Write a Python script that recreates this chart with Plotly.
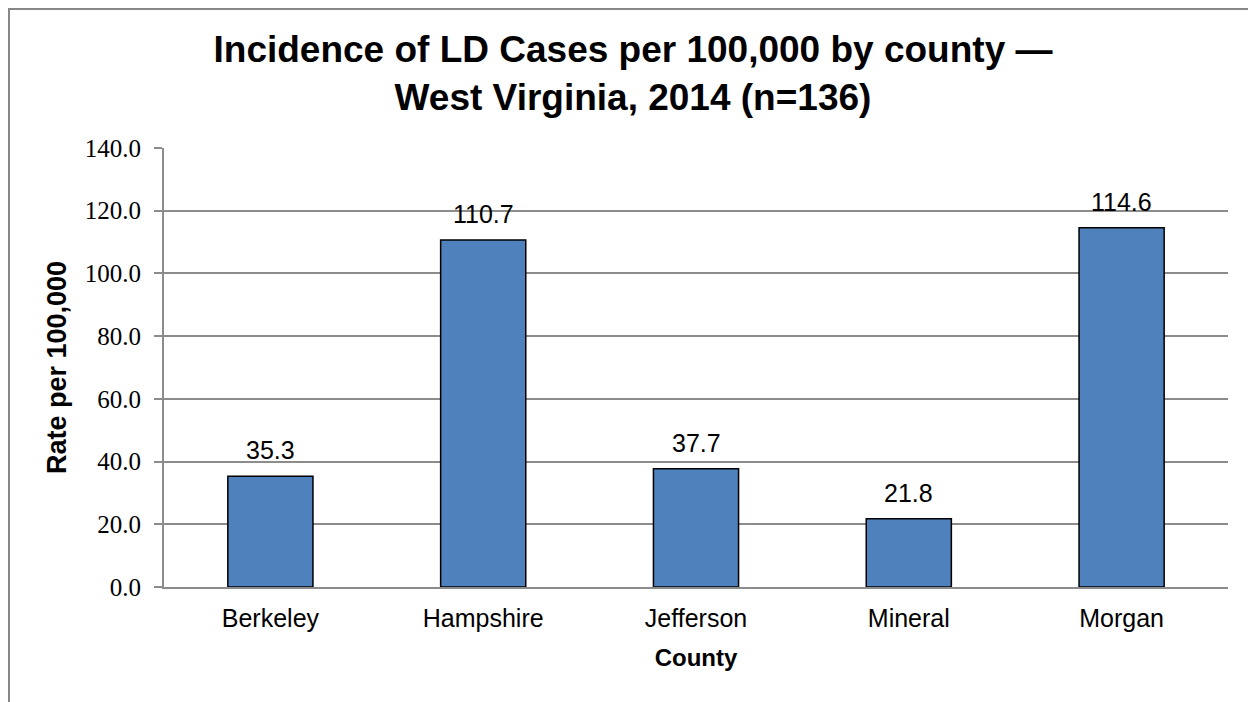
import plotly.graph_objects as go

counties = ["Berkeley", "Hampshire", "Jefferson", "Mineral", "Morgan"]
rates = [35.3, 110.7, 37.7, 21.8, 114.6]
y_ticks = [0, 20, 40, 60, 80, 100, 120, 140]

title_text = "<b>Incidence of LD Cases per 100,000 by county —<br>West Virginia, 2014 (n=136)</b>"

W, H = 1248, 702
ML, MR, MT, MB = 164, 20, 148, 115
PW, PH = W - ML - MR, H - MT - MB

def px_x(px):
    return (px - ML) / PW

def px_y(py):
    return (H - MB - py) / PH

fig = go.Figure()
fig.add_trace(go.Bar(
    x=counties, y=rates,
    marker=dict(color="#4F81BD", line=dict(color="#000000", width=1.5)),
    width=0.4,
))

for c, v in zip(counties, rates):
    fig.add_annotation(x=c, y=v, text=f"{v:.1f}", showarrow=False,
                       yanchor="bottom", yshift=10,
                       font=dict(family="Liberation Sans, Arial", size=25, color="#000"))

fig.add_shape(type="rect", xref="paper", yref="paper",
              x0=px_x(9), x1=px_x(1262), y0=px_y(9), y1=px_y(720),
              line=dict(color="#878787", width=2), layer="below")

fig.update_layout(
    width=W, height=H,
    margin=dict(l=ML, r=MR, t=MT, b=MB),
    paper_bgcolor="white", plot_bgcolor="white",
    showlegend=False,
    title=dict(text=title_text, x=633 / W, xanchor="center", xref="container",
               y=1 - 62 / H, yanchor="top", yref="container",
               font=dict(family="Liberation Sans, Arial", size=37, color="#000")),
    xaxis=dict(showline=True, linecolor="#8c8c8c", linewidth=2, ticks="",
               tickfont=dict(family="Liberation Sans, Arial", size=25, color="#000"),
               ticklabelstandoff=8,
               title=dict(text="<b>County</b>", standoff=18,
                          font=dict(family="Liberation Sans, Arial", size=24, color="#000"))),
    yaxis=dict(range=[0, 140], tickvals=y_ticks, tickformat=".1f",
               showgrid=True, gridcolor="#8c8c8c", gridwidth=1.5,
               showline=True, linecolor="#8c8c8c", linewidth=2,
               ticks="outside", ticklen=8, tickcolor="#8c8c8c", tickwidth=1.5,
               ticklabelstandoff=8,
               zeroline=False,
               tickfont=dict(family="Liberation Serif, Times New Roman", size=25, color="#000"),
               title=dict(text="<b>Rate per 100,000</b>", standoff=10,
                          font=dict(family="Liberation Sans, Arial", size=27, color="#000"))),
)

fig.write_html("out.html", config={"displayModeBar": False},
               post_script="document.body.style.margin='0';")
